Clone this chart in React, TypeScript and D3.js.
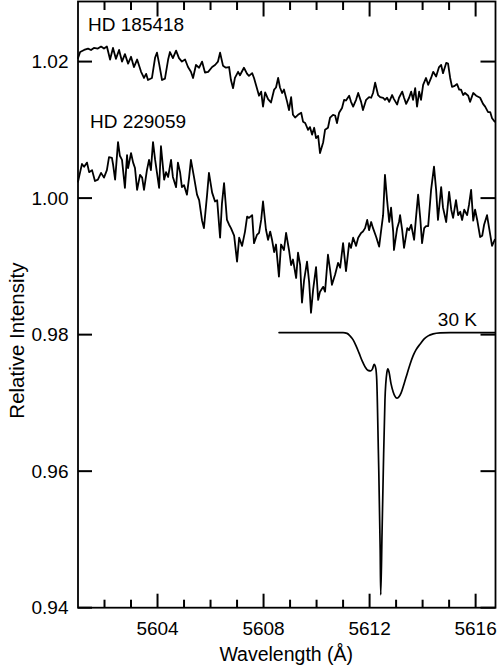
import React from "react";
import * as d3 from "d3";

// ---- Data (wavelength in Å, relative intensity) ----
const xMajorTicks = [5604, 5608, 5612, 5616];
const xMinorTicks = [5602, 5603, 5605, 5606, 5607, 5609, 5610, 5611, 5613, 5614, 5615];
const yTicks = [0.94, 0.96, 0.98, 1.0, 1.02];

const hd185418: [number, number][] = [
  [5601.00,1.0205],[5601.08,1.0214],[5601.23,1.0217],[5601.38,1.0219],[5601.49,1.0217],[5601.60,1.0220],[5601.75,1.0219],[5601.87,1.0222],[5601.98,1.0219],[5602.09,1.0222],
  [5602.21,1.0203],[5602.32,1.0220],[5602.43,1.0204],[5602.55,1.0217],[5602.66,1.0200],[5602.77,1.0211],[5602.89,1.0197],[5603.00,1.0207],[5603.11,1.0192],[5603.23,1.0203],
  [5603.38,1.0185],[5603.49,1.0176],[5603.57,1.0182],[5603.64,1.0173],[5603.79,1.0176],[5603.91,1.0206],[5603.98,1.0213],[5604.06,1.0197],[5604.17,1.0173],[5604.28,1.0175],
  [5604.40,1.0203],[5604.47,1.0214],[5604.58,1.0205],[5604.70,1.0216],[5604.81,1.0205],[5604.92,1.0200],[5605.04,1.0203],[5605.15,1.0192],[5605.26,1.0185],[5605.34,1.0176],
  [5605.45,1.0195],[5605.57,1.0191],[5605.68,1.0200],[5605.79,1.0184],[5605.91,1.0185],[5606.06,1.0192],[5606.17,1.0195],[5606.28,1.0200],[5606.36,1.0213],[5606.47,1.0194],
  [5606.58,1.0191],[5606.70,1.0192],[5606.77,1.0173],[5606.85,1.0161],[5606.92,1.0176],[5607.04,1.0185],[5607.11,1.0180],[5607.26,1.0191],[5607.38,1.0182],[5607.45,1.0179],
  [5607.57,1.0183],[5607.64,1.0176],[5607.75,1.0161],[5607.83,1.0150],[5607.91,1.0156],[5607.98,1.0134],[5608.06,1.0155],[5608.17,1.0145],[5608.28,1.0140],[5608.40,1.0159],
  [5608.47,1.0162],[5608.55,1.0176],[5608.62,1.0162],[5608.70,1.0154],[5608.77,1.0159],[5608.89,1.0141],[5608.96,1.0129],[5609.04,1.0148],[5609.11,1.0122],[5609.19,1.0118],
  [5609.30,1.0122],[5609.42,1.0125],[5609.49,1.0112],[5609.57,1.0110],[5609.68,1.0100],[5609.75,1.0104],[5609.83,1.0093],[5609.91,1.0103],[5609.98,1.0088],[5610.06,1.0091],
  [5610.13,1.0066],[5610.25,1.0082],[5610.32,1.0100],[5610.43,1.0103],[5610.51,1.0118],[5610.62,1.0122],[5610.70,1.0121],[5610.77,1.0110],[5610.85,1.0125],[5610.96,1.0132],
  [5611.04,1.0144],[5611.11,1.0143],[5611.23,1.0150],[5611.30,1.0141],[5611.38,1.0134],[5611.49,1.0144],[5611.57,1.0154],[5611.68,1.0141],[5611.75,1.0129],[5611.87,1.0144],
  [5611.98,1.0148],[5612.06,1.0147],[5612.13,1.0154],[5612.21,1.0169],[5612.32,1.0151],[5612.40,1.0148],[5612.51,1.0147],[5612.58,1.0144],[5612.66,1.0147],[5612.74,1.0141],
  [5612.85,1.0151],[5612.92,1.0145],[5613.04,1.0137],[5613.11,1.0147],[5613.23,1.0156],[5613.30,1.0147],[5613.38,1.0138],[5613.49,1.0147],[5613.57,1.0156],[5613.64,1.0144],
  [5613.72,1.0161],[5613.79,1.0134],[5613.87,1.0156],[5613.94,1.0144],[5614.02,1.0166],[5614.13,1.0176],[5614.21,1.0166],[5614.32,1.0176],[5614.40,1.0185],[5614.51,1.0178],
  [5614.62,1.0192],[5614.70,1.0195],[5614.77,1.0183],[5614.89,1.0198],[5614.96,1.0197],[5615.04,1.0176],[5615.11,1.0163],[5615.19,1.0164],[5615.30,1.0167],[5615.38,1.0159],
  [5615.45,1.0159],[5615.53,1.0151],[5615.60,1.0154],[5615.72,1.0150],[5615.79,1.0141],[5615.91,1.0154],[5616.02,1.0150],[5616.17,1.0147],[5616.28,1.0138],[5616.36,1.0134],
  [5616.47,1.0126],[5616.55,1.0126],[5616.62,1.0117],[5616.72,1.0112],
];

const hd229059: [number, number][] = [
  [5601.00,1.0024],[5601.08,1.0038],[5601.15,1.0050],[5601.23,1.0046],[5601.34,1.0052],[5601.42,1.0038],[5601.53,1.0041],[5601.64,1.0025],[5601.75,1.0027],[5601.87,1.0037],
  [5601.98,1.0030],[5602.09,1.0041],[5602.17,1.0060],[5602.28,1.0059],[5602.32,1.0050],[5602.40,1.0027],[5602.51,1.0082],[5602.58,1.0062],[5602.66,1.0056],[5602.77,1.0015],
  [5602.85,1.0063],[5602.89,1.0044],[5603.00,1.0066],[5603.08,1.0052],[5603.15,1.0044],[5603.23,1.0012],[5603.34,1.0034],[5603.42,1.0030],[5603.49,1.0012],[5603.60,1.0041],
  [5603.68,1.0056],[5603.75,1.0041],[5603.83,1.0082],[5603.91,1.0056],[5603.98,1.0037],[5604.06,1.0015],[5604.13,1.0076],[5604.25,1.0027],[5604.32,1.0038],[5604.40,1.0031],
  [5604.51,1.0056],[5604.58,1.0031],[5604.70,1.0016],[5604.77,1.0052],[5604.85,1.0038],[5604.92,1.0016],[5605.00,1.0019],[5605.11,1.0005],[5605.19,1.0030],[5605.26,1.0056],
  [5605.38,1.0030],[5605.49,1.0005],[5605.57,0.9997],[5605.68,0.9967],[5605.75,0.9956],[5605.87,1.0005],[5605.94,1.0037],[5606.06,1.0008],[5606.17,0.9995],[5606.25,0.9997],
  [5606.36,0.9942],[5606.43,0.9992],[5606.51,1.0022],[5606.62,0.9968],[5606.70,0.9961],[5606.77,0.9956],[5606.89,0.9945],[5607.00,0.9907],[5607.08,0.9942],[5607.19,0.9930],
  [5607.30,0.9951],[5607.38,0.9973],[5607.45,0.9971],[5607.57,0.9975],[5607.64,0.9934],[5607.75,0.9946],[5607.83,0.9949],[5607.91,0.9968],[5607.98,0.9995],[5608.09,0.9954],
  [5608.17,0.9939],[5608.25,0.9951],[5608.32,0.9939],[5608.40,0.9921],[5608.47,0.9932],[5608.58,0.9885],[5608.66,0.9932],[5608.77,0.9924],[5608.85,0.9949],[5608.96,0.9924],
  [5609.04,0.9902],[5609.11,0.9910],[5609.23,0.9883],[5609.30,0.9920],[5609.38,0.9902],[5609.45,0.9847],[5609.53,0.9880],[5609.64,0.9907],[5609.72,0.9877],[5609.79,0.9832],
  [5609.87,0.9866],[5609.98,0.9899],[5610.06,0.9851],[5610.13,0.9863],[5610.25,0.9870],[5610.32,0.9863],[5610.43,0.9917],[5610.51,0.9895],[5610.58,0.9873],[5610.70,0.9888],
  [5610.81,0.9905],[5610.89,0.9898],[5611.00,0.9934],[5611.11,0.9893],[5611.23,0.9934],[5611.30,0.9927],[5611.38,0.9942],[5611.49,0.9930],[5611.57,0.9942],[5611.68,0.9949],
  [5611.75,0.9951],[5611.83,0.9956],[5611.91,0.9968],[5611.98,0.9953],[5612.06,0.9965],[5612.13,0.9956],[5612.25,0.9943],[5612.36,0.9929],[5612.43,0.9951],[5612.51,0.9975],
  [5612.58,1.0034],[5612.66,0.9997],[5612.74,0.9965],[5612.81,0.9986],[5612.89,0.9951],[5612.92,0.9924],[5613.04,0.9956],[5613.11,0.9965],[5613.15,0.9975],[5613.23,0.9953],
  [5613.30,0.9927],[5613.42,0.9956],[5613.49,0.9953],[5613.57,0.9961],[5613.68,0.9939],[5613.75,0.9971],[5613.83,1.0005],[5613.91,0.9971],[5613.98,0.9934],[5614.06,0.9956],
  [5614.13,0.9959],[5614.21,0.9959],[5614.32,1.0012],[5614.43,1.0046],[5614.51,1.0012],[5614.58,0.9968],[5614.70,1.0016],[5614.77,0.9986],[5614.89,0.9965],[5615.00,1.0009],
  [5615.08,0.9983],[5615.15,0.9971],[5615.26,0.9997],[5615.34,0.9975],[5615.42,0.9980],[5615.49,0.9968],[5615.57,0.9983],[5615.68,0.9975],[5615.75,0.9990],[5615.83,1.0012],
  [5615.91,0.9967],[5615.98,0.9983],[5616.06,0.9968],[5616.17,0.9943],[5616.25,0.9945],[5616.32,0.9961],[5616.43,0.9975],[5616.51,0.9956],[5616.62,0.9930],[5616.72,0.9939],
];

const model30K: [number, number][] = [
  [5608.585,0.9803],[5611.00,0.9803],[5611.15,0.98018],[5611.26,0.97982],[5611.38,0.97923],[5611.49,0.97835],[5611.60,0.97733],[5611.72,0.97615],[5611.83,0.97528],
  [5611.94,0.97476],[5612.04,0.97469],[5612.11,0.97498],[5612.17,0.97564],[5612.23,0.97513],[5612.27,0.97337],[5612.33,0.96312],[5612.40,0.94847],[5612.42,0.94187],
  [5612.47,0.95096],[5612.52,0.96062],[5612.58,0.97044],[5612.65,0.9744],[5612.69,0.97498],[5612.74,0.9744],[5612.81,0.97278],[5612.89,0.97161],[5612.96,0.97095],
  [5613.03,0.97069],[5613.09,0.97081],[5613.19,0.97147],[5613.30,0.97278],[5613.42,0.97432],[5613.53,0.97571],[5613.64,0.97689],[5613.75,0.97777],[5613.91,0.97864],
  [5614.06,0.97938],[5614.21,0.97982],[5614.40,0.98011],[5614.66,0.98026],[5615.04,0.9803],[5616.74,0.9803],
];

const seriesLabels = [
  { text: "HD 185418", x: 5601.38, y: 1.0245, anchor: "start" },
  { text: "HD 229059", x: 5601.45, y: 1.0103, anchor: "start" },
  { text: "30 K", x: 5616.05, y: 0.9813, anchor: "end" },
];

const W = 498;
const H = 670;
const M = { left: 78, right: 2.5, top: 1.5, bottom: 62.3 };
const FONT = "'Liberation Sans', Arial, Helvetica, sans-serif";

export default function App() {
  const xs = d3.scaleLinear().domain([5601, 5616.75]).range([M.left, W - M.right]);
  const ys = d3.scaleLinear().domain([0.94, 1.0288]).range([H - M.bottom, M.top]);
  const lineGen = d3.line<[number, number]>().x((d) => xs(d[0])).y((d) => ys(d[1]));
  const smoothGen = d3
    .line<[number, number]>()
    .x((d) => xs(d[0]))
    .y((d) => ys(d[1]))
    .curve(d3.curveMonotoneX);

  const L = M.left, R = W - M.right, T = M.top, B = H - M.bottom;
  const TC = "#000";

  return (
    <svg width={W} height={H} style={{ position: "absolute", left: 0, top: 0, background: "#fff" }} fontFamily={FONT}>
      <g fill="none" stroke="#000" strokeLinejoin="round" strokeLinecap="round">
        <path d={lineGen(hd185418) || ""} strokeWidth={1.8} />
        <path d={lineGen(hd229059) || ""} strokeWidth={1.8} />
        <path d={smoothGen(model30K) || ""} strokeWidth={1.7} />
      </g>
      <rect x={L} y={T} width={R - L} height={B - T} fill="none" stroke="#000" strokeWidth={1.8} />
      {xMajorTicks.map((t) => (
        <line key={"bM" + t} x1={xs(t)} x2={xs(t)} y1={B} y2={B - 14} stroke={TC} strokeWidth={2} />
      ))}
      {xMajorTicks.map((t) => (
        <line key={"tM" + t} x1={xs(t)} x2={xs(t)} y1={T} y2={T + 15} stroke={TC} strokeWidth={2} />
      ))}
      {xMinorTicks.map((t) => (
        <line key={"bm" + t} x1={xs(t)} x2={xs(t)} y1={B} y2={B - 8} stroke={TC} strokeWidth={2} />
      ))}
      {xMinorTicks.map((t) => (
        <line key={"tm" + t} x1={xs(t)} x2={xs(t)} y1={T} y2={T + 8.5} stroke={TC} strokeWidth={2} />
      ))}
      {yTicks.map((t) => (
        <line key={"l" + t} x1={L} x2={L + 14} y1={ys(t)} y2={ys(t)} stroke={TC} strokeWidth={2} />
      ))}
      {yTicks.map((t) => (
        <line key={"r" + t} x1={R} x2={R - 15} y1={ys(t)} y2={ys(t)} stroke={TC} strokeWidth={2} />
      ))}
      <g fontSize={19} fill="#000">
        {xMajorTicks.map((t) => (
          <text key={"xl" + t} x={xs(t)} y={635} textAnchor="middle">
            {t}
          </text>
        ))}
        {yTicks.map((t) => (
          <text key={"yl" + t} x={68.5} y={ys(t)} dy="0.35em" textAnchor="end">
            {t.toFixed(2)}
          </text>
        ))}
      </g>
      <text x={(L + R) / 2 - 0.5} y={660.5} textAnchor="middle" fontSize={19.5}>
        Wavelength (Å)
      </text>
      <text transform={`translate(24,${(T + B) / 2 + 36}) rotate(-90)`} textAnchor="middle" fontSize={20.5}>
        Relative Intensity
      </text>
      <g fontSize={19}>
        {seriesLabels.map((l) => (
          <text key={l.text} x={xs(l.x)} y={ys(l.y)} textAnchor={l.anchor as any}>
            {l.text}
          </text>
        ))}
      </g>
    </svg>
  );
}
